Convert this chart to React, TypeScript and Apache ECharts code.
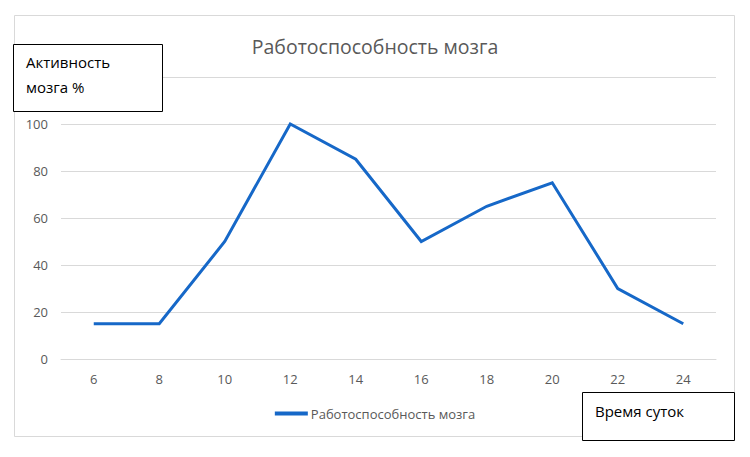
import React, { useEffect, useRef } from "react";
import * as echarts from "echarts";

const hours = ["6", "8", "10", "12", "14", "16", "18", "20", "22", "24"];
const activity = [15, 15, 50, 100, 85, 50, 65, 75, 30, 15];
const seriesName = "Работоспособность мозга";
const titleText = "Работоспособность мозга";
const yBoxLines = ["Активность", "мозга %"];
const xBoxText = "Время суток";
const hiddenTick = 120;

const FONT = "'Open Sans', 'Noto Sans', sans-serif";

export default function App() {
  const ref = useRef<HTMLDivElement>(null);
  useEffect(() => {
    if (!ref.current) return;
    const chart = echarts.init(ref.current, null, { renderer: "svg" });
    chart.setOption({
      animation: false,
      backgroundColor: "#ffffff",
      title: {
        text: titleText,
        left: "center",
        top: 31,
        textStyle: { fontFamily: FONT, fontSize: 19.5, fontWeight: "normal", color: "#595959" },
      },
      grid: { left: 61, right: 34, top: 77, bottom: 98, containLabel: false },
      legend: {
        left: "center",
        top: 402,
        itemWidth: 33,
        itemHeight: 4,
        itemGap: 6,
        data: [{ name: seriesName, icon: "rect" }],
        textStyle: { fontFamily: FONT, fontSize: 13, color: "#595959", padding: [0, 0, 0, -2] },
      },
      xAxis: {
        type: "category",
        data: hours,
        boundaryGap: true,
        axisLine: { show: true, lineStyle: { color: "#d9d9d9", width: 1 } },
        axisTick: { show: false },
        axisLabel: { fontFamily: FONT, fontSize: 13, color: "#595959", margin: 13 },
      },
      yAxis: {
        type: "value",
        min: 0,
        max: 120,
        interval: 20,
        axisLine: { show: false },
        axisTick: { show: false },
        splitLine: { lineStyle: { color: "#d9d9d9", width: 1 } },
        axisLabel: {
          fontFamily: FONT,
          fontSize: 13,
          color: "#595959",
          margin: 13,
          formatter: (v: number) => (v === hiddenTick ? "" : String(v)),
        },
      },
      series: [
        {
          name: seriesName,
          type: "line",
          data: activity,
          showSymbol: false,
          symbol: "none",
          lineStyle: { color: "#1668c8", width: 3, join: "miter" },
          itemStyle: { color: "#1668c8" },
        },
      ],
      graphic: [
        {
          type: "rect",
          z: 100,
          shape: { x: 14.5, y: 15.5, width: 720, height: 421 },
          style: { fill: "none", stroke: "#d9d9d9", lineWidth: 1 },
        },
        {
          type: "rect",
          z: 100,
          shape: { x: 13.5, y: 44.5, width: 149, height: 67 },
          style: { fill: "#ffffff", stroke: "#000000", lineWidth: 1 },
        },
        {
          type: "text",
          z: 101,
          x: 26,
          y: 62,
          style: { text: yBoxLines[0], fontFamily: FONT, fontSize: 15, fill: "#000000", verticalAlign: "middle" },
        },
        {
          type: "text",
          z: 101,
          x: 26,
          y: 87,
          style: { text: yBoxLines[1], fontFamily: FONT, fontSize: 15, fill: "#000000", verticalAlign: "middle" },
        },
        {
          type: "rect",
          z: 100,
          shape: { x: 582.5, y: 392.5, width: 152, height: 48 },
          style: { fill: "#ffffff", stroke: "#000000", lineWidth: 1 },
        },
        {
          type: "text",
          z: 101,
          x: 595,
          y: 411,
          style: { text: xBoxText, fontFamily: FONT, fontSize: 15, fill: "#000000", verticalAlign: "middle" },
        },
      ],
    });
    return () => chart.dispose();
  }, []);
  return (
    <div
      ref={ref}
      style={{ position: "fixed", left: 0, top: 0, width: 750, height: 457 }}
    />
  );
}
